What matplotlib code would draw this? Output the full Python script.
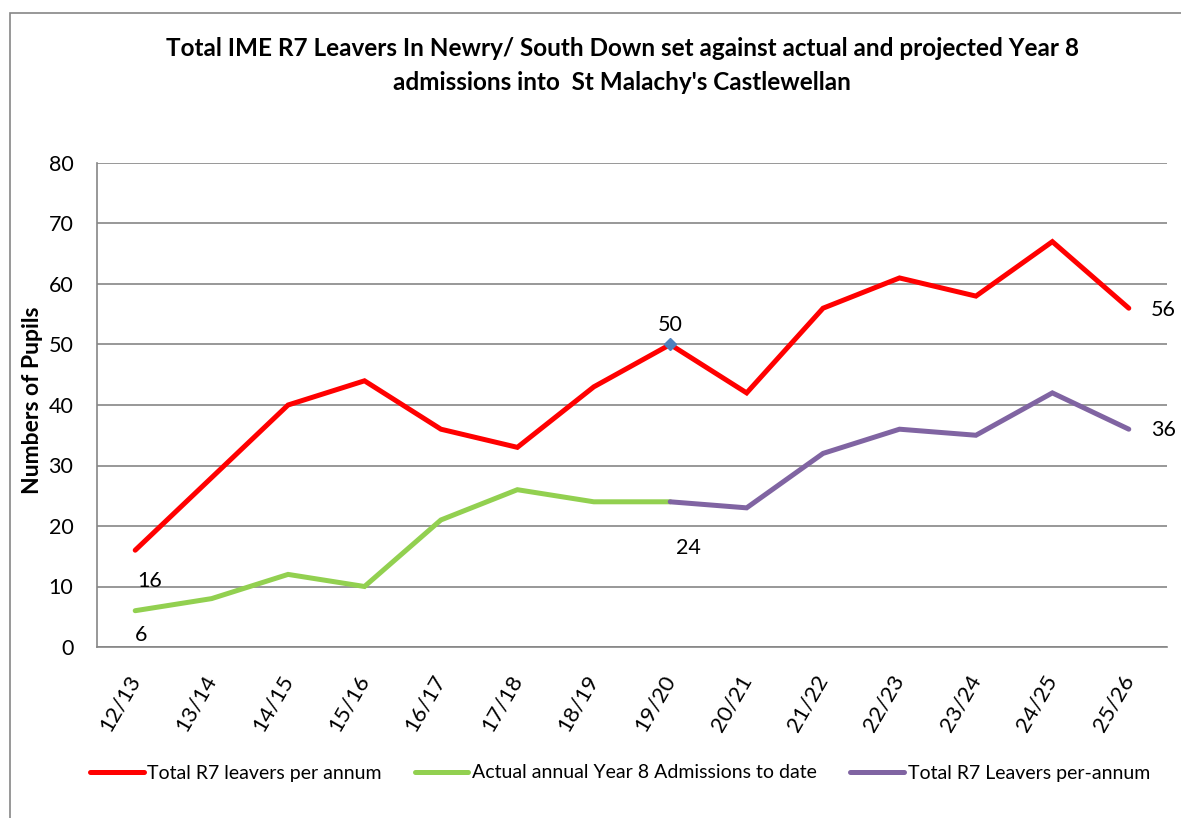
import matplotlib
matplotlib.use("Agg")
import matplotlib.pyplot as plt
from matplotlib.patches import Rectangle
from matplotlib.transforms import ScaledTranslation

plt.rcParams['font.family'] = ['Lato', 'DejaVu Sans']

categories = ["12/13", "13/14", "14/15", "15/16", "16/17", "17/18", "18/19",
              "19/20", "20/21", "21/22", "22/23", "23/24", "24/25", "25/26"]
red_values = [16, 28, 40, 44, 36, 33, 43, 50, 42, 56, 61, 58, 67, 56]
green_values = [6, 8, 12, 10, 21, 26, 24, 24]
purple_values = [24, 23, 32, 36, 35, 42, 36]
purple_start = 7
yticks = [0, 10, 20, 30, 40, 50, 60, 70, 80]

title1 = "Total IME R7 Leavers In Newry/ South Down set against actual and projected Year 8"
title2 = "admissions into  St Malachy's Castlewellan"
ylabel = "Numbers of Pupils"
legend_labels = ["Total R7 leavers per annum", "Actual annual Year 8 Admissions to date",
                 "Total R7 Leavers per-annum"]

RED = "#FF0000"
GREEN = "#92D050"
PURPLE = "#8064A2"
GRID = "#868686"

W, H = 1181, 818
fig = plt.figure(figsize=(W / 100, H / 100), dpi=100)
fig.patch.set_facecolor("white")

# outer chart border (extends beyond image right/bottom)
fig.patches.append(Rectangle((10 / W, -0.05), 1.2, 1 - 13 / H + 0.05,
                             transform=fig.transFigure, fill=False,
                             edgecolor=GRID, linewidth=1.2))

ax = fig.add_axes([97 / W, 1 - 647 / H, (1167 - 97) / W, (647 - 163) / H])
n = len(categories)
x = list(range(n))

l1, = ax.plot(x, red_values, color=RED, lw=3.6, solid_capstyle='round',
              solid_joinstyle='miter', zorder=3)
l2, = ax.plot(x[:len(green_values)], green_values, color=GREEN, lw=3.6,
              solid_capstyle='round', solid_joinstyle='miter', zorder=3)
px = x[purple_start:purple_start + len(purple_values)]
l3, = ax.plot(px, purple_values, color=PURPLE, lw=3.6,
              solid_capstyle='round', solid_joinstyle='miter', zorder=3)
ax.plot([x[7]], [red_values[7]], marker='D', color="#4F81BD", ms=6, zorder=4, lw=0)

ax.set_xlim(-0.5, n - 0.5)
ax.set_ylim(0, 80)
ax.set_yticks(yticks)
ax.set_yticklabels([str(v) for v in yticks], fontsize=15.5)
ax.set_xticks(x)
ax.set_xticklabels(categories, fontsize=16, rotation=60, ha='right', va='center',
                   rotation_mode='anchor')
for lab in ax.get_xticklabels():
    lab.set_transform(lab.get_transform() + ScaledTranslation(0.12, 0, fig.dpi_scale_trans))
ax.tick_params(axis='y', length=0, pad=17)
ax.tick_params(axis='x', length=0, pad=21)
ax.grid(axis='y', color=GRID, lw=1.2)
ax.set_axisbelow(True)
for s in ['top', 'right']:
    ax.spines[s].set_visible(False)
for s in ['left', 'bottom']:
    ax.spines[s].set_color(GRID)
    ax.spines[s].set_linewidth(1.2)

ax.set_ylabel(ylabel, fontsize=16.5, fontweight='bold')
ax.yaxis.set_label_coords(-(97 - 43) / (1167 - 97), 0.51)

def lbl(xi, yi, text, dx, dy, ha='center'):
    ax.annotate(text, (xi, yi), xytext=(dx, dy), textcoords='offset pixels',
                ha=ha, va='center', fontsize=15.5, color='black', zorder=5)

lbl(0, red_values[0], "16", 14, -31)
lbl(0, green_values[0], "6", 6, -24)
lbl(7, red_values[7], "50", 0, 19)
lbl(7, purple_values[0], "24", 18, -46)
lbl(13, red_values[13], "56", 22, -2, ha='left')
lbl(13, purple_values[-1], "36", 22, -1, ha='left')

fig.text(622 / W, 1 - 48 / H, title1, ha='center', va='center', fontsize=17.5,
         fontweight='bold')
fig.text(622 / W, 1 - 82 / H, title2, ha='center', va='center', fontsize=17.5,
         fontweight='bold')

fig.legend([l1, l2, l3], legend_labels, loc='center', bbox_to_anchor=(620 / W, 1 - 773 / H),
           ncol=3, frameon=False, fontsize=14.0, handlelength=2.75, handletextpad=0.2,
           columnspacing=1.7)

fig.savefig("out.png", dpi=100)
